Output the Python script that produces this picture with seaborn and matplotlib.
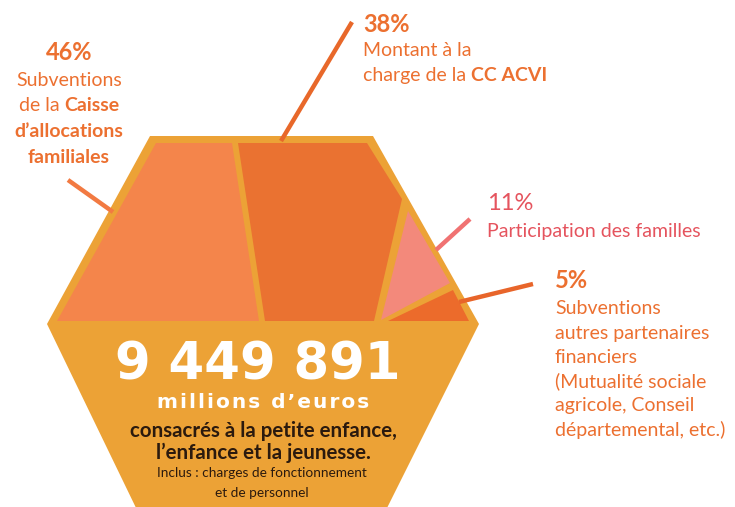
import matplotlib
matplotlib.use("Agg")
import matplotlib.pyplot as plt
import seaborn as sns
from matplotlib.patches import Polygon

# --- data -------------------------------------------------------------
shares = [46, 38, 11, 5]
share_labels = [f"{s}%" for s in shares]
total_amount = "9 449 891"
total_unit = "millions d\u2019euros"
total_desc = ["consacrés à la petite enfance,", "l\u2019enfance et la jeunesse."]
total_note = ["Inclus : charges de fonctionnement", "et de personnel"]

# each description line is a list of (text, bold) pieces
desc_caf = [[("Subventions", False)],
            [("de la ", False), ("Caisse", True)],
            [("d\u2019allocations", True)],
            [("familiales", True)]]
desc_cc = [[("Montant à la", False)],
           [("charge de la ", False), ("CC ACVI", True)]]
desc_fam = [[("Participation des familles", False)]]
desc_other = [[("Subventions", False)],
              [("autres partenaires", False)],
              [("financiers", False)],
              [("(Mutualité sociale", False)],
              [("agricole, Conseil", False)],
              [("départemental, etc.)", False)]]

# --- layout (pixel space, y down) ---------------------------------------
hexagon = [(150, 136), (373, 136), (479, 324), (385, 512), (138, 512), (47, 324)]
regions = [
    [(156, 143), (232, 143), (259, 321), (57, 321)],
    [(238, 143), (367, 143), (402, 199), (374, 321), (265, 321)],
    [(408, 211), (450, 283), (381, 320)],
    [(453, 290), (469, 321), (388, 321)],
]
region_colors = ["#F4854B", "#EA7231", "#F3897B", "#EC6B2B"]
frame_color = "#ECA236"
leaders = [((68, 180), (113, 212)), ((352, 22), (281, 141)),
           ((470, 219), (436, 250)), ((533, 284), (459, 302))]
leader_colors = ["#F27A42", "#E8682A", "#F07272", "#E8652A"]

orange = "#EC7030"
pink = "#E5545E"
dark = "#2B1A0E"

sns.set_theme(style="white")
plt.rcParams["font.family"] = ["Lato", "DejaVu Sans"]

fig = plt.figure(figsize=(7.35, 5.07), dpi=100)
ax = fig.add_axes([0, 0, 1, 1])
ax.set_xlim(0, 735)
ax.set_ylim(507, 0)
ax.axis("off")

ax.add_patch(Polygon(hexagon, closed=True, facecolor=frame_color, edgecolor="none"))
for poly, col in zip(regions, region_colors):
    ax.add_patch(Polygon(poly, closed=True, facecolor=col, edgecolor="none"))

for (p0, p1), col in zip(leaders, leader_colors):
    ax.plot([p0[0], p1[0]], [p0[1], p1[1]], color=col, lw=3.2, solid_capstyle="butt")

fig.canvas.draw()
renderer = fig.canvas.get_renderer()


def line_width(pieces, size):
    w = 0
    for txt, bold in pieces:
        t = ax.text(0, 0, txt, fontsize=size, fontweight="bold" if bold else "normal")
        w += t.get_window_extent(renderer).width
        t.remove()
    return w


def draw_line(pieces, x, y, size, color, align="left"):
    if align == "center":
        x = x - line_width(pieces, size) / 2
    for txt, bold in pieces:
        t = ax.text(x, y, txt, fontsize=size, color=color, va="center", ha="left",
                    fontweight="bold" if bold else "normal")
        x += t.get_window_extent(renderer).width


def draw_block(header, lines, x, y0, y1, step, size, color, align="left",
               header_bold=True):
    draw_line([(header, header_bold)], x, y0, size + 3, color, align)
    for i, pieces in enumerate(lines):
        draw_line(pieces, x, y1 + step * i, size, color, align)


draw_block(share_labels[0], desc_caf, 69, 53, 80, 25.8, 14, orange, align="center")
draw_block(share_labels[1], desc_cc, 363, 24, 50, 25.5, 14, orange)
draw_block(share_labels[2], desc_fam, 487, 203, 231, 26, 14, pink, header_bold=False)
draw_block(share_labels[3], desc_other, 555, 281, 309, 24.2, 14, orange)

# --- centre text -----------------------------------------------------------
cx = 262


def spaced(s):
    return "\u200a".join(s)


ax.text(cx - 4, 366, total_amount, fontsize=37, fontweight="bold", color="white",
        ha="center", va="center", family=["DejaVu Sans"])
ax.text(cx + 1, 403, spaced(total_unit), fontsize=14.5, fontweight="bold", color="white",
        ha="center", va="center", family=["DejaVu Sans"])
ax.text(cx + 1, 431, total_desc[0], fontsize=14.8, fontweight="bold", color=dark,
        ha="center", va="center")
ax.text(cx + 1, 453, total_desc[1], fontsize=14.8, fontweight="bold", color=dark,
        ha="center", va="center")
ax.text(cx, 473, total_note[0], fontsize=9.8, color=dark, ha="center", va="center")
ax.text(cx, 493, total_note[1], fontsize=9.8, color=dark, ha="center", va="center")

fig.savefig("out.png", dpi=100)
